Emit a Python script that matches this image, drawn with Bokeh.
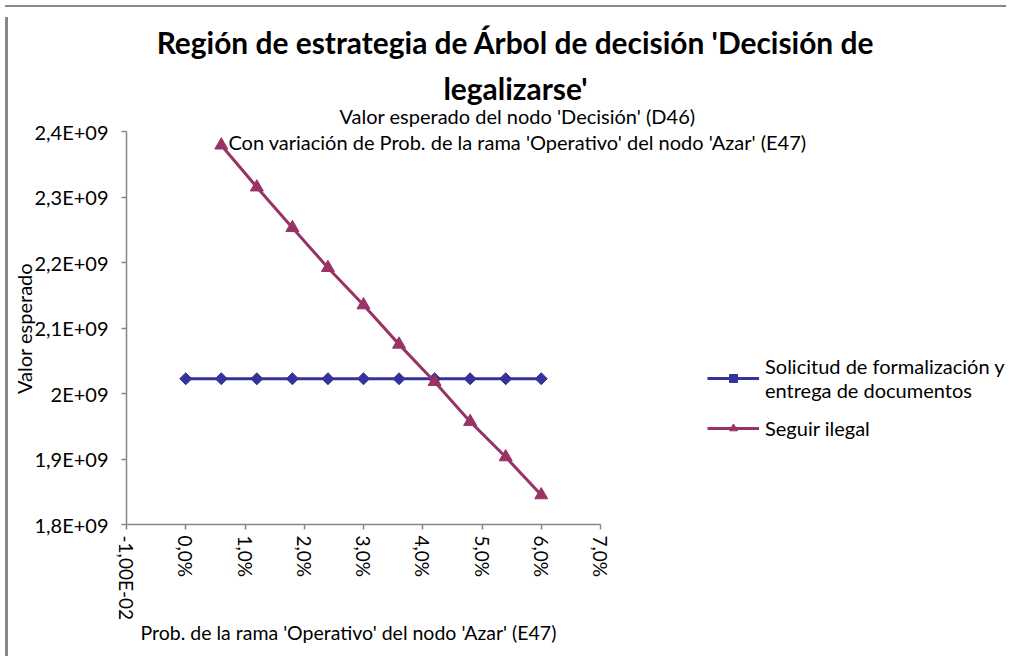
import numpy as np
from bokeh.plotting import figure
from bokeh.models import FixedTicker, Label, Legend, LegendItem, Div, Range1d
from bokeh.layouts import column, row
from bokeh.embed import file_html
from bokeh.resources import INLINE

# ---------------- data ----------------
x_solicitud = [0.0, 0.6, 1.2, 1.8, 2.4, 3.0, 3.6, 4.2, 4.8, 5.4, 6.0]
y_solicitud = [2022500000, 2022500000, 2022500000, 2022500000, 2022500000, 2022500000,
               2022500000, 2022500000, 2022500000, 2022500000, 2022500000]

x_ilegal = [0.6, 1.2, 1.8, 2.4, 3.0, 3.6, 4.2, 4.8, 5.4, 6.0]
y_ilegal = [2379000000, 2315000000, 2253000000, 2192000000, 2135000000,
            2075000000, 2018000000, 1957000000, 1903000000, 1845000000]

series_names = ["Solicitud de formalización y\nentrega de documentos", "Seguir ilegal"]

x_ticks = [-1, 0, 1, 2, 3, 4, 5, 6, 7]
x_tick_labels = ["-1,00E-02", "0,0%", "1,0%", "2,0%", "3,0%", "4,0%", "5,0%", "6,0%", "7,0%"]
y_ticks = [1800000000, 1900000000, 2000000000, 2100000000, 2200000000, 2300000000, 2400000000]
y_tick_labels = ["1,8E+09", "1,9E+09", "2E+09", "2,1E+09", "2,2E+09", "2,3E+09", "2,4E+09"]

title_lines = ["Región de estrategia de Árbol de decisión 'Decisión de", "legalizarse'"]
subtitle_lines = ["Valor esperado del nodo 'Decisión' (D46)",
                  "Con variación de Prob. de la rama 'Operativo' del nodo 'Azar' (E47)"]
x_label = "Prob. de la rama 'Operativo' del nodo 'Azar' (E47)"
y_label = "Valor esperado"

# ---------------- style / layout ----------------
FONT = "Lato"
BLUE = "#333399"
PURPLE = "#993366"
AXIS = "#868686"
FRAME_GREY = "#888888"

W, H = 998, 639                  # canvas == plot frame
AX_LEFT, AX_BOTTOM = 113, 127    # where the axes cross, px from canvas left / bottom
AXIS_W, AXIS_H = 474, 393        # pixel length of the drawn axes

x_per_px = (x_ticks[-1] - x_ticks[0]) / AXIS_W
y_per_px = (y_ticks[-1] - y_ticks[0]) / AXIS_H
x_start = x_ticks[0] - AX_LEFT * x_per_px
x_end = x_ticks[0] + (W - AX_LEFT) * x_per_px
y_start = y_ticks[0] - AX_BOTTOM * y_per_px
y_end = y_ticks[0] + (H - AX_BOTTOM) * y_per_px

p = figure(width=W, height=H, output_backend="svg", toolbar_location=None,
           x_range=Range1d(x_start, x_end), y_range=Range1d(y_start, y_end),
           min_border=0,
           background_fill_color="white", border_fill_color="white",
           outline_line_color=None)
p.grid.visible = False

l1 = p.line(x_solicitud, y_solicitud, line_color=BLUE, line_width=3)
s1 = p.scatter(x_solicitud, y_solicitud, marker="square", angle=np.pi / 4, size=8.5,
               fill_color=BLUE, line_color=BLUE)
l2 = p.line(x_ilegal, y_ilegal, line_color=PURPLE, line_width=3)
s2 = p.scatter(x_ilegal, y_ilegal, marker="triangle", size=13,
               fill_color=PURPLE, line_color=PURPLE)

for ax in (p.xaxis[0], p.yaxis[0]):
    ax.axis_line_color = AXIS
    ax.axis_line_width = 1.5
    ax.major_tick_line_color = AXIS
    ax.major_tick_line_width = 1.5
    ax.major_tick_in = 0
    ax.major_tick_out = 5
    ax.minor_tick_line_color = None
    ax.major_label_text_font = FONT
    ax.major_label_text_color = "black"

p.xaxis.fixed_location = y_ticks[0]
p.xaxis.bounds = (x_ticks[0], x_ticks[-1])
p.xaxis.ticker = FixedTicker(ticks=x_ticks)
p.xaxis.major_label_overrides = dict(zip(x_ticks, x_tick_labels))
p.xaxis.major_label_orientation = "vertical"
p.xaxis.major_label_standoff = 6
p.xaxis.major_label_text_font_size = "19px"

p.yaxis.fixed_location = x_ticks[0]
p.yaxis.bounds = (y_ticks[0], y_ticks[-1])
p.yaxis.ticker = FixedTicker(ticks=y_ticks)
p.yaxis.major_label_overrides = dict(zip(y_ticks, y_tick_labels))
p.yaxis.major_label_standoff = 13
p.yaxis.major_label_text_font_size = "20px"


def add_text(txt, x, y, size, bold=False, align="center", angle=0.0):
    p.add_layout(Label(x=x, y=y, x_units="screen", y_units="screen", text=txt,
                       text_font=FONT, text_font_size=size,
                       text_font_style="bold" if bold else "normal",
                       text_align=align, text_baseline="middle", angle=angle,
                       text_color="black"))


# chart titles (screen px from the canvas bottom-left)
add_text(title_lines[0], 502, 610, "29.9px", bold=True)
add_text(title_lines[1], 502, 564, "29.9px", bold=True)
add_text(subtitle_lines[0], 504, 536, "20px")
add_text(subtitle_lines[1], 504, 510, "20px")
# axis titles
add_text(x_label, 127, 19, "19.5px", align="left")
add_text(y_label, 10, 323, "20px", angle=np.pi / 2)

legend = Legend(items=[LegendItem(label=series_names[0], renderers=[l1, s1]),
                       LegendItem(label=series_names[1], renderers=[l2, s2])],
                location=(694, 211), padding=0, margin=0, spacing=14,
                glyph_width=52, glyph_height=20, label_standoff=6,
                background_fill_alpha=0, border_line_color=None,
                label_text_font=FONT, label_text_font_size="20px",
                label_text_line_height=1.3, label_text_color="black")
p.add_layout(legend)

top_bar = Div(text="", width=1001, height=2, styles={"background-color": FRAME_GREY})
left_bar = Div(text="", width=3, height=H, styles={"background-color": FRAME_GREY})
layout = column(top_bar, row(left_bar, p, spacing=0), spacing=0)

open("out.html", "w").write(file_html(layout, INLINE))
